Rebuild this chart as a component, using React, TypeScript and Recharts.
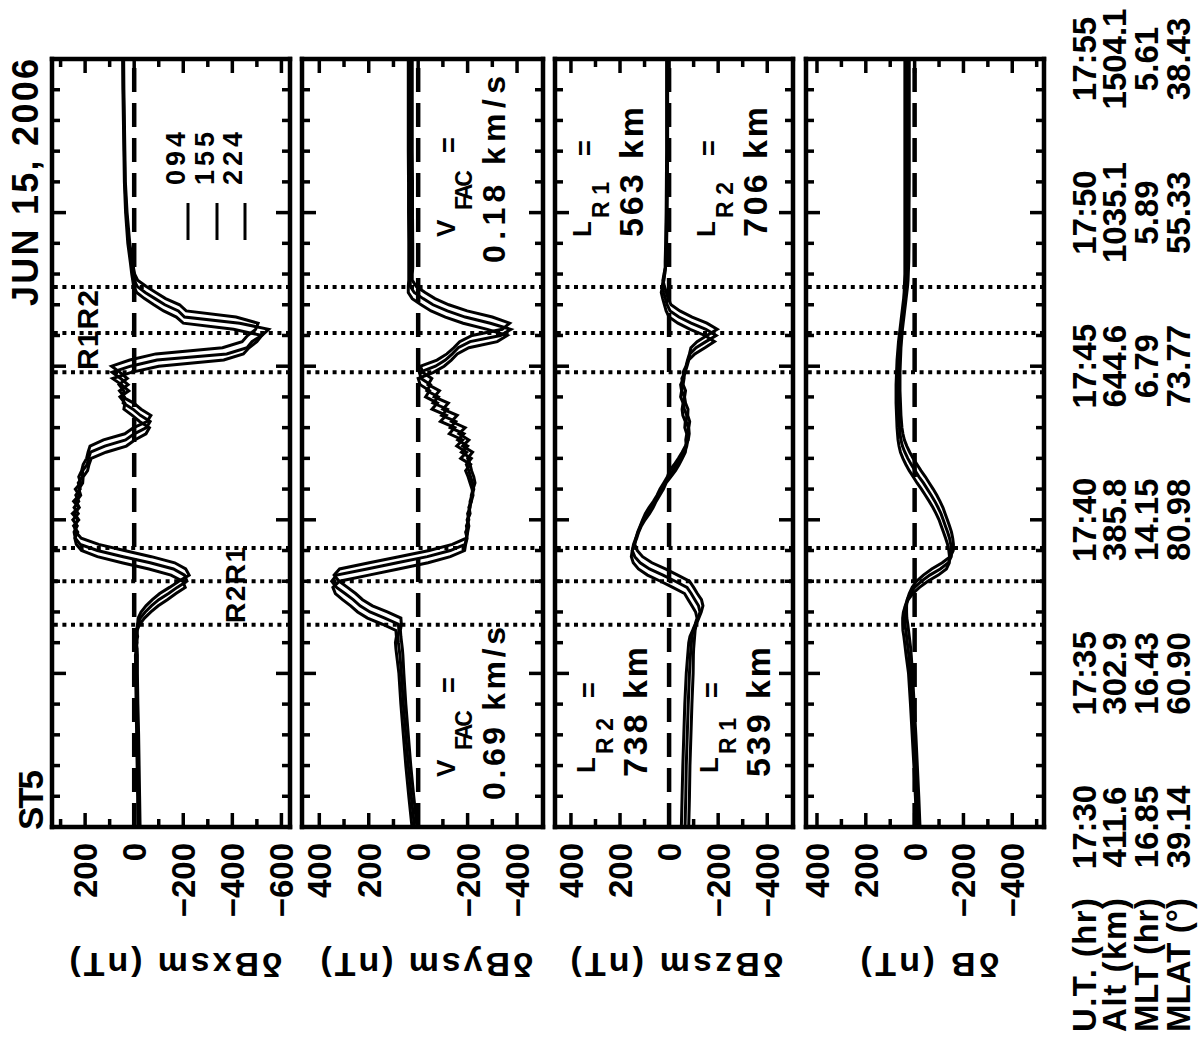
import React from 'react';
import { LineChart, Line, XAxis, YAxis, ReferenceLine } from 'recharts';

const FONT = "'Liberation Sans', Arial, Helvetica, sans-serif";
const FIG_W = 1046;
const FIG_H = 1201;
const PLOT_LEFT = 219;
const PLOT_RIGHT = 987;
const AX = 0.01; // near-zero axis band so the frame sits on the plot edge

// time in minutes after 17:30 UT
const minutes = [0, 1, 2, 3, 4, 5,
  5.6, 5.8, 6, 6.2, 6.4, 6.6, 6.8, 7, 7.2, 7.4,
  7.6, 7.8, 8, 8.2, 8.4, 8.6, 8.8, 9, 9.2, 9.4,
  9.6, 9.8, 10, 10.2, 10.4, 10.6, 10.8, 11, 11.2, 11.4,
  11.6, 11.8, 12, 12.2, 12.4, 12.6, 12.8, 13, 13.2, 13.4,
  13.6, 13.8, 14, 14.2, 14.4, 14.6, 14.8, 15, 15.2, 15.4,
  15.6, 15.8, 16, 16.2, 16.4, 16.6, 16.8, 17, 17.2, 17.4,
  17.6, 17.8, 18, 18.2, 18.4,
  19, 20, 21, 22, 23, 24, 25];

const spacecraft = ['094', '155', '224'];

// dBxsm (nT)
const bx094 = [-15, -14, -12, -10, -8, -6,
  -5, -10, -6, -10, -12, -22, -42, -68, -98, -135,
  -170, -208, -198, -150, -60, 50, 150, 215, 236, 242,
  230, 247, 226, 243, 224, 236, 218, 226, 210, 208,
  190, 184, 175, 115, 32, -2, -48, -62, -22, 8,
  42, 38, 58, 22, 52, 88, 12, -100, -365, -445,
  -468, -500, -520, -405, -200, -172, -120, -80, -42, -10,
  2, 6, 10, 13, 16,
  26, 35, 40, 42, 44, 46, 47];
const bx155 = [-20, -18, -16, -15, -12, -10,
  -10, -6, -12, -8, -12, -14, -25, -45, -70, -100,
  -140, -175, -215, -205, -160, -65, 45, 150, 220, 240,
  245, 232, 250, 228, 245, 226, 238, 220, 228, 212,
  210, 192, 186, 178, 120, 35, 0, -50, -65, -25,
  5, 45, 40, 60, 25, 55, 90, 15, -93, -377,
  -460, -480, -520, -548, -430, -205, -180, -125, -85, -45,
  -12, 0, 4, 8, 12,
  22, 32, 38, 40, 42, 44, 45];
const bx224 = [-24, -22, -20, -18, -15, -13,
  -13, -12, -9, -14, -10, -14, -16, -28, -48, -74,
  -104, -144, -182, -224, -210, -165, -70, 40, 145, 216,
  238, 244, 230, 252, 226, 247, 224, 240, 218, 226,
  214, 208, 194, 188, 180, 125, 38, 2, -52, -68,
  -28, 2, 48, 42, 62, 28, 58, 92, 18, -88,
  -360, -440, -462, -495, -505, -415, -212, -185, -128, -88,
  -48, -14, -2, 3, 7,
  18, 29, 36, 38, 40, 42, 43];

// dBysm (nT)
const by094 = [25, 38, 50, 60, 70, 78,
  87, 90, 92, 88, 90, 145, 205, 245, 273, 306,
  335, 345, 318, 200, 80, -40, -130, -188, -192, -198,
  -192, -203, -198, -208, -208, -215, -222, -218, -210, -202,
  -192, -212, -172, -196, -156, -180, -126, -148, -90, -114,
  -56, -78, -30, -46, -8, 0, -62, -105, -134, -158,
  -205, -320, -360, -280, -182, -110, -52, -12, 24, 40,
  40, 38, 38, 38, 38,
  38, 39, 39, 40, 40, 40, 40];
const by155 = [15, 28, 40, 50, 60, 68,
  74, 77, 80, 82, 78, 80, 135, 195, 235, 263,
  296, 330, 350, 330, 207, 85, -37, -130, -190, -195,
  -200, -195, -205, -200, -210, -210, -218, -225, -220, -212,
  -205, -195, -215, -175, -200, -160, -185, -130, -152, -95,
  -118, -60, -82, -35, -50, -12, -5, -70, -110, -138,
  -162, -210, -333, -375, -292, -190, -118, -60, -20, 16,
  32, 32, 30, 30, 30,
  30, 31, 31, 32, 32, 32, 32];
const by224 = [5, 18, 30, 40, 50, 58,
  62, 64, 67, 70, 72, 68, 70, 125, 185, 225,
  253, 286, 320, 340, 318, 198, 78, -45, -138, -195,
  -200, -205, -200, -210, -205, -215, -215, -222, -230, -225,
  -216, -210, -200, -220, -180, -205, -165, -190, -135, -158,
  -100, -122, -65, -86, -40, -55, -18, -10, -76, -116,
  -144, -168, -218, -340, -370, -300, -198, -124, -68, -28,
  8, 24, 24, 22, 22,
  22, 23, 23, 24, 24, 24, 24];

// dBzsm (nT)
const bz094 = [-50, -53, -56, -60, -64, -70,
  -76, -78, -80, -85, -96, -106, -114, -108, -93, -78,
  -63, -15, 35, 88, 125, 146, 154, 150, 142, 132,
  124, 113, 98, 80, 65, 53, 38, 23, 12, -7,
  -26, -41, -54, -66, -70, -68, -72, -64, -66, -56,
  -53, -57, -47, -51, -47, -59, -65, -73, -80, -105,
  -146, -185, -146, -86, -36, 0, 12, 19, 26, 32,
  27, 21, 18, 16, 16,
  14, 12, 11, 10, 10, 10, 10];
const bz155 = [-65, -68, -70, -74, -78, -83,
  -87, -89, -91, -93, -98, -108, -118, -126, -120, -105,
  -90, -73, -25, 25, 80, 118, 140, 150, 145, 136,
  126, 116, 105, 90, 72, 57, 45, 30, 15, 4,
  -15, -32, -47, -60, -72, -76, -74, -78, -70, -72,
  -62, -58, -62, -52, -56, -52, -64, -70, -78, -85,
  -110, -150, -192, -150, -90, -40, -4, 8, 15, 22,
  28, 24, 18, 15, 13,
  12, 10, 9, 8, 8, 8, 8];
const bz224 = [-80, -83, -85, -89, -93, -98,
  -99, -100, -102, -104, -106, -111, -121, -131, -138, -132,
  -115, -100, -83, -35, 15, 70, 108, 130, 140, 135,
  128, 118, 108, 97, 82, 64, 49, 37, 22, 7,
  -2, -21, -38, -53, -66, -78, -82, -80, -84, -76,
  -77, -67, -63, -67, -57, -61, -57, -69, -75, -83,
  -89, -114, -154, -196, -154, -94, -44, -8, 4, 11,
  19, 25, 21, 15, 12,
  10, 8, 7, 6, 6, 6, 6];

// dB (nT)
const bt094 = [-8, -3, 3, 10, 17, 25,
  35, 38, 41, 44, 48, 49, 49, 46, 38, 26,
  8, -20, -54, -97, -130, -142, -143, -140, -135, -127,
  -118, -109, -100, -88, -75, -60, -44, -28, -10, 6,
  22, 36, 48, 58, 64, 68, 70, 72, 73, 74,
  75, 76, 76, 76, 76, 75, 74, 73, 72, 70,
  68, 66, 63, 60, 57, 54, 51, 48, 45, 43,
  42, 41, 40, 40, 40,
  40, 40, 40, 40, 40, 40, 40];
const bt155 = [-15, -10, -4, 3, 10, 18,
  24, 27, 30, 33, 36, 40, 41, 41, 38, 30,
  18, 0, -28, -62, -105, -138, -150, -151, -148, -143,
  -135, -126, -117, -108, -96, -83, -68, -52, -36, -18,
  -2, 14, 28, 40, 50, 56, 60, 62, 64, 65,
  66, 67, 68, 68, 68, 68, 67, 66, 65, 64,
  62, 60, 58, 55, 52, 49, 46, 43, 40, 37,
  35, 34, 33, 32, 32,
  31, 31, 31, 31, 31, 31, 31];
const bt224 = [-22, -17, -11, -5, 2, 9,
  14, 16, 19, 22, 25, 28, 32, 33, 33, 30,
  22, 10, -8, -36, -70, -113, -146, -158, -159, -156,
  -151, -143, -134, -125, -116, -104, -91, -76, -60, -44,
  -26, -10, 6, 20, 32, 42, 48, 52, 54, 56,
  57, 58, 59, 60, 60, 60, 60, 59, 58, 57,
  56, 54, 52, 50, 47, 44, 41, 38, 35, 32,
  29, 27, 26, 25, 24,
  23, 23, 22, 22, 22, 22, 22];

// boundaries (minutes after 17:30)
const boundaryMinutes = [6.58, 8.0, 9.08, 14.8, 16.08, 17.58];

// time axis: one tick per minute, labelled every 5 minutes
const timeTicks = [0, 1, 2, 3, 4, 5, 6, 7, 8, 9, 10, 11, 12, 13, 14, 15, 16, 17, 18, 19, 20, 21, 22, 23, 24, 25];
const labelledTimes = [0, 5, 10, 15, 20, 25];
const utLabels = ['17:30', '17:35', '17:40', '17:45', '17:50', '17:55'];
const altLabels = ['411.6', '302.9', '385.8', '644.6', '1035.1', '1504.1'];
const mltLabels = ['16.85', '16.43', '14.15', '6.79', '5.89', '5.61'];
const mlatLabels = ['39.14', '60.90', '80.98', '73.77', '55.33', '38.43'];
const rowNames = ['U.T. (hr)', 'Alt (km)', 'MLT (hr)', 'MLAT (°)'];
const rowOffsets = [52, 82, 114, 146];

// value axes: one tick per 100 nT, labelled every 200 nT
const ticksBx = [-600, -500, -400, -300, -200, -100, 0, 100, 200, 300];
const ticksBy = [-400, -300, -200, -100, 0, 100, 200, 300, 400];
const ticksBz = [-400, -300, -200, -100, 0, 100, 200, 300, 400];
const ticksB = [-500, -400, -300, -200, -100, 0, 100, 200, 300, 400];

const panels = [
  { title: 'δBxsm (nT)', tc: 176, tl: 213, top: 52, bottom: 290, domain: [-635, 335], ticks: ticksBx,
    series: [bx094, bx155, bx224] },
  { title: 'δBysm (nT)', tc: 427, tl: 213, top: 302, bottom: 543, domain: [-505, 470], ticks: ticksBy,
    series: [by094, by155, by224] },
  { title: 'δBzsm (nT)', tc: 677, tl: 213, top: 555, bottom: 793, domain: [-505, 465], ticks: ticksBz,
    series: [bz094, bz155, bz224] },
  { title: 'δB (nT)', tc: 930, tl: 139, top: 806, bottom: 1044, domain: [-530, 445], ticks: ticksB,
    series: [bt094, bt155, bt224] },
];

const frameStyle = { stroke: '#000', strokeWidth: 4.5, strokeLinecap: 'square' as const };
const MAJOR_PX = 14;
const MINOR_PX = 8;

function TimeLabel(props: any) {
  const { x, y, payload, showLabels } = props;
  const i = labelledTimes.indexOf(payload.value);
  if (!showLabels || i < 0) return <g />;
  const rows = [utLabels[i], altLabels[i], mltLabels[i], mlatLabels[i]];
  return (
    <g>
      {rows.map((r, k) => (
        <text key={k} x={x} y={y + rowOffsets[k]} textAnchor="middle" fontSize={33} fontWeight="bold"
          fontFamily={FONT} fill="#000">
          {r}
        </text>
      ))}
    </g>
  );
}

function ValueLabel(props: any) {
  const { x, y, payload, showLabels } = props;
  const v = payload.value;
  if (!showLabels || v % 200 !== 0) return <g />;
  const s = v < 0 ? '\u2212' + Math.abs(v) : String(v);
  return (
    <text x={x - 16} y={y + 12} textAnchor="end" fontSize={33} fontWeight="bold" fontFamily={FONT} fill="#000">
      {s}
    </text>
  );
}

function tickSegments(panel: any) {
  const [d0, d1] = panel.domain;
  const dyPerPx = (d1 - d0) / (panel.bottom - panel.top);
  const dxPerPx = 25 / (PLOT_RIGHT - PLOT_LEFT);
  const segs: any[] = [];
  timeTicks.forEach((t) => {
    const len = (labelledTimes.indexOf(t) >= 0 ? MAJOR_PX : MINOR_PX) * dyPerPx;
    segs.push([{ x: t, y: d0 }, { x: t, y: d0 + len }]);
    segs.push([{ x: t, y: d1 }, { x: t, y: d1 - len }]);
  });
  panel.ticks.forEach((v: number) => {
    const len = (v % 200 === 0 ? MAJOR_PX : MINOR_PX) * dxPerPx;
    segs.push([{ x: 0, y: v }, { x: len, y: v }]);
    segs.push([{ x: 25, y: v }, { x: 25 - len, y: v }]);
  });
  return segs;
}

function PanelChart({ panel, showTime }: any) {
  const rows = minutes.map((t, i) => ({
    t,
    s094: panel.series[0][i],
    s155: panel.series[1][i],
    s224: panel.series[2][i],
  }));
  const xCommon = { type: 'number' as const, dataKey: 't', domain: [0, 25], allowDataOverflow: true,
    interval: 0 as const, height: AX, tickSize: 0, tickMargin: 0, tickLine: false, ticks: timeTicks,
    axisLine: frameStyle };
  const yCommon = { type: 'number' as const, domain: panel.domain, allowDataOverflow: true, interval: 0 as const,
    width: AX, tickSize: 0, tickMargin: 0, tickLine: false, ticks: panel.ticks, axisLine: frameStyle };
  // spacecraft 155 is drawn against the top/right axes, which share the same scales as bottom/left
  const axisFor = (sc: string) => (sc === '155' ? { x: 't', y: 'r' } : { x: 'b', y: 'l' });
  return (
    <div style={{ position: 'absolute', left: 0, top: 0 }}>
      <LineChart width={FIG_W} height={FIG_H} data={rows}
        margin={{ top: panel.top - AX, bottom: FIG_H - panel.bottom - AX, left: PLOT_LEFT - AX, right: FIG_W - PLOT_RIGHT - AX }}>
        <XAxis xAxisId="b" orientation="bottom" {...xCommon} tick={<TimeLabel showLabels={showTime} />} />
        <XAxis xAxisId="t" orientation="top" {...xCommon} tick={<TimeLabel showLabels={false} />} />
        <YAxis yAxisId="l" orientation="left" {...yCommon} tick={<ValueLabel showLabels />} />
        <YAxis yAxisId="r" orientation="right" {...yCommon} tick={<ValueLabel showLabels={false} />} />
        {tickSegments(panel).map((seg, k) => (
          <ReferenceLine key={'tk' + k} segment={seg} xAxisId="b" yAxisId="l" stroke="#000" strokeWidth={3.5}
            ifOverflow="visible" />
        ))}
        {boundaryMinutes.map((b) => (
          <ReferenceLine key={b} x={b} xAxisId="b" yAxisId="l" stroke="#000" strokeWidth={4}
            strokeDasharray="4 4.6" />
        ))}
        <ReferenceLine y={0} xAxisId="b" yAxisId="l" stroke="#000" strokeWidth={4.5} strokeDasharray="24 11" />
        {spacecraft.map((sc) => (
          <Line key={sc} xAxisId={axisFor(sc).x} yAxisId={axisFor(sc).y} dataKey={'s' + sc} type="linear"
            stroke="#000" strokeWidth={3} dot={false} activeDot={false} isAnimationActive={false} />
        ))}
      </LineChart>
    </div>
  );
}

const legendRows = [188, 217, 245];

function Overlay() {
  const t = { fontFamily: FONT, fontWeight: 'bold' as const, fill: '#000' };
  return (
    <svg width={FIG_W} height={FIG_H} style={{ position: 'absolute', left: 0, top: 0 }}>
      <text {...t} x={216} y={43} fontSize={35} textLength={60}>ST5</text>
      <text {...t} x={987} y={38} fontSize={36} textAnchor="end" textLength={247}>JUN 15, 2006</text>
      {panels.map((p) => (
        <text key={p.title} {...t} x={81} y={p.tc} fontSize={34} textAnchor="middle" dominantBaseline="central"
          textLength={p.tl} transform={`rotate(-90 81 ${p.tc})`}>
          {p.title}
        </text>
      ))}
      {spacecraft.map((sc, k) => (
        <g key={sc}>
          <line x1={806} x2={843} y1={legendRows[k]} y2={legendRows[k]} stroke="#000" strokeWidth={3} />
          <text {...t} x={861} y={legendRows[k] - 3} fontSize={27} textLength={53}>{sc}</text>
        </g>
      ))}
      <text {...t} x={716} y={98} fontSize={30} textAnchor="middle" textLength={80}>R1R2</text>
      <text {...t} x={461} y={245} fontSize={28} textAnchor="middle" textLength={76}>R2R1</text>

      {/* V_FAC annotations, panel 2 */}
      <text {...t} x={269} y={455} fontSize={26}>V</text>
      <text {...t} x={296} y={472} fontSize={23} textLength={40}>FAC</text>
      <text {...t} x={353} y={458} fontSize={27}>=</text>
      <text {...t} x={246} y={505} fontSize={32} textLength={173}>0.69 km/s</text>

      <text {...t} x={809} y={455} fontSize={26}>V</text>
      <text {...t} x={836} y={472} fontSize={23} textLength={40}>FAC</text>
      <text {...t} x={893} y={458} fontSize={27}>=</text>
      <text {...t} x={783} y={505} fontSize={32} textLength={187}>0.18 km/s</text>

      {/* L annotations, panel 3 */}
      <text {...t} x={809} y={591} fontSize={26}>L</text>
      <text {...t} x={828} y={609} fontSize={23} textLength={36}>R1</text>
      <text {...t} x={890} y={594} fontSize={27}>=</text>
      <text {...t} x={809} y={643} fontSize={34} textLength={130}>563 km</text>
      <text {...t} x={809} y={715} fontSize={26}>L</text>
      <text {...t} x={828} y={733} fontSize={23} textLength={36}>R2</text>
      <text {...t} x={890} y={718} fontSize={27}>=</text>
      <text {...t} x={809} y={767} fontSize={34} textLength={130}>706 km</text>

      <text {...t} x={273} y={595} fontSize={26}>L</text>
      <text {...t} x={292} y={613} fontSize={23} textLength={36}>R2</text>
      <text {...t} x={348} y={598} fontSize={27}>=</text>
      <text {...t} x={269} y={647} fontSize={34} textLength={130}>738 km</text>
      <text {...t} x={273} y={718} fontSize={26}>L</text>
      <text {...t} x={292} y={736} fontSize={23} textLength={36}>R1</text>
      <text {...t} x={348} y={721} fontSize={27}>=</text>
      <text {...t} x={269} y={770} fontSize={34} textLength={130}>539 km</text>

      {rowNames.map((r, k) => (
        <text key={r} {...t} x={14} y={1044 + rowOffsets[k]} fontSize={33} textLength={134}>{r}</text>
      ))}
    </svg>
  );
}

export default function App() {
  return (
    <div style={{ position: 'absolute', left: 0, top: 0, width: 1201, height: 1046, background: '#fff', overflow: 'hidden' }}>
      <div style={{ position: 'absolute', left: 0, top: 0, width: FIG_W, height: FIG_H, transformOrigin: '0 0',
        transform: 'translate(0px, 1046px) rotate(-90deg)' }}>
        {panels.map((p, i) => (
          <PanelChart key={p.title} panel={p} showTime={i === panels.length - 1} />
        ))}
        <Overlay />
      </div>
    </div>
  );
}
